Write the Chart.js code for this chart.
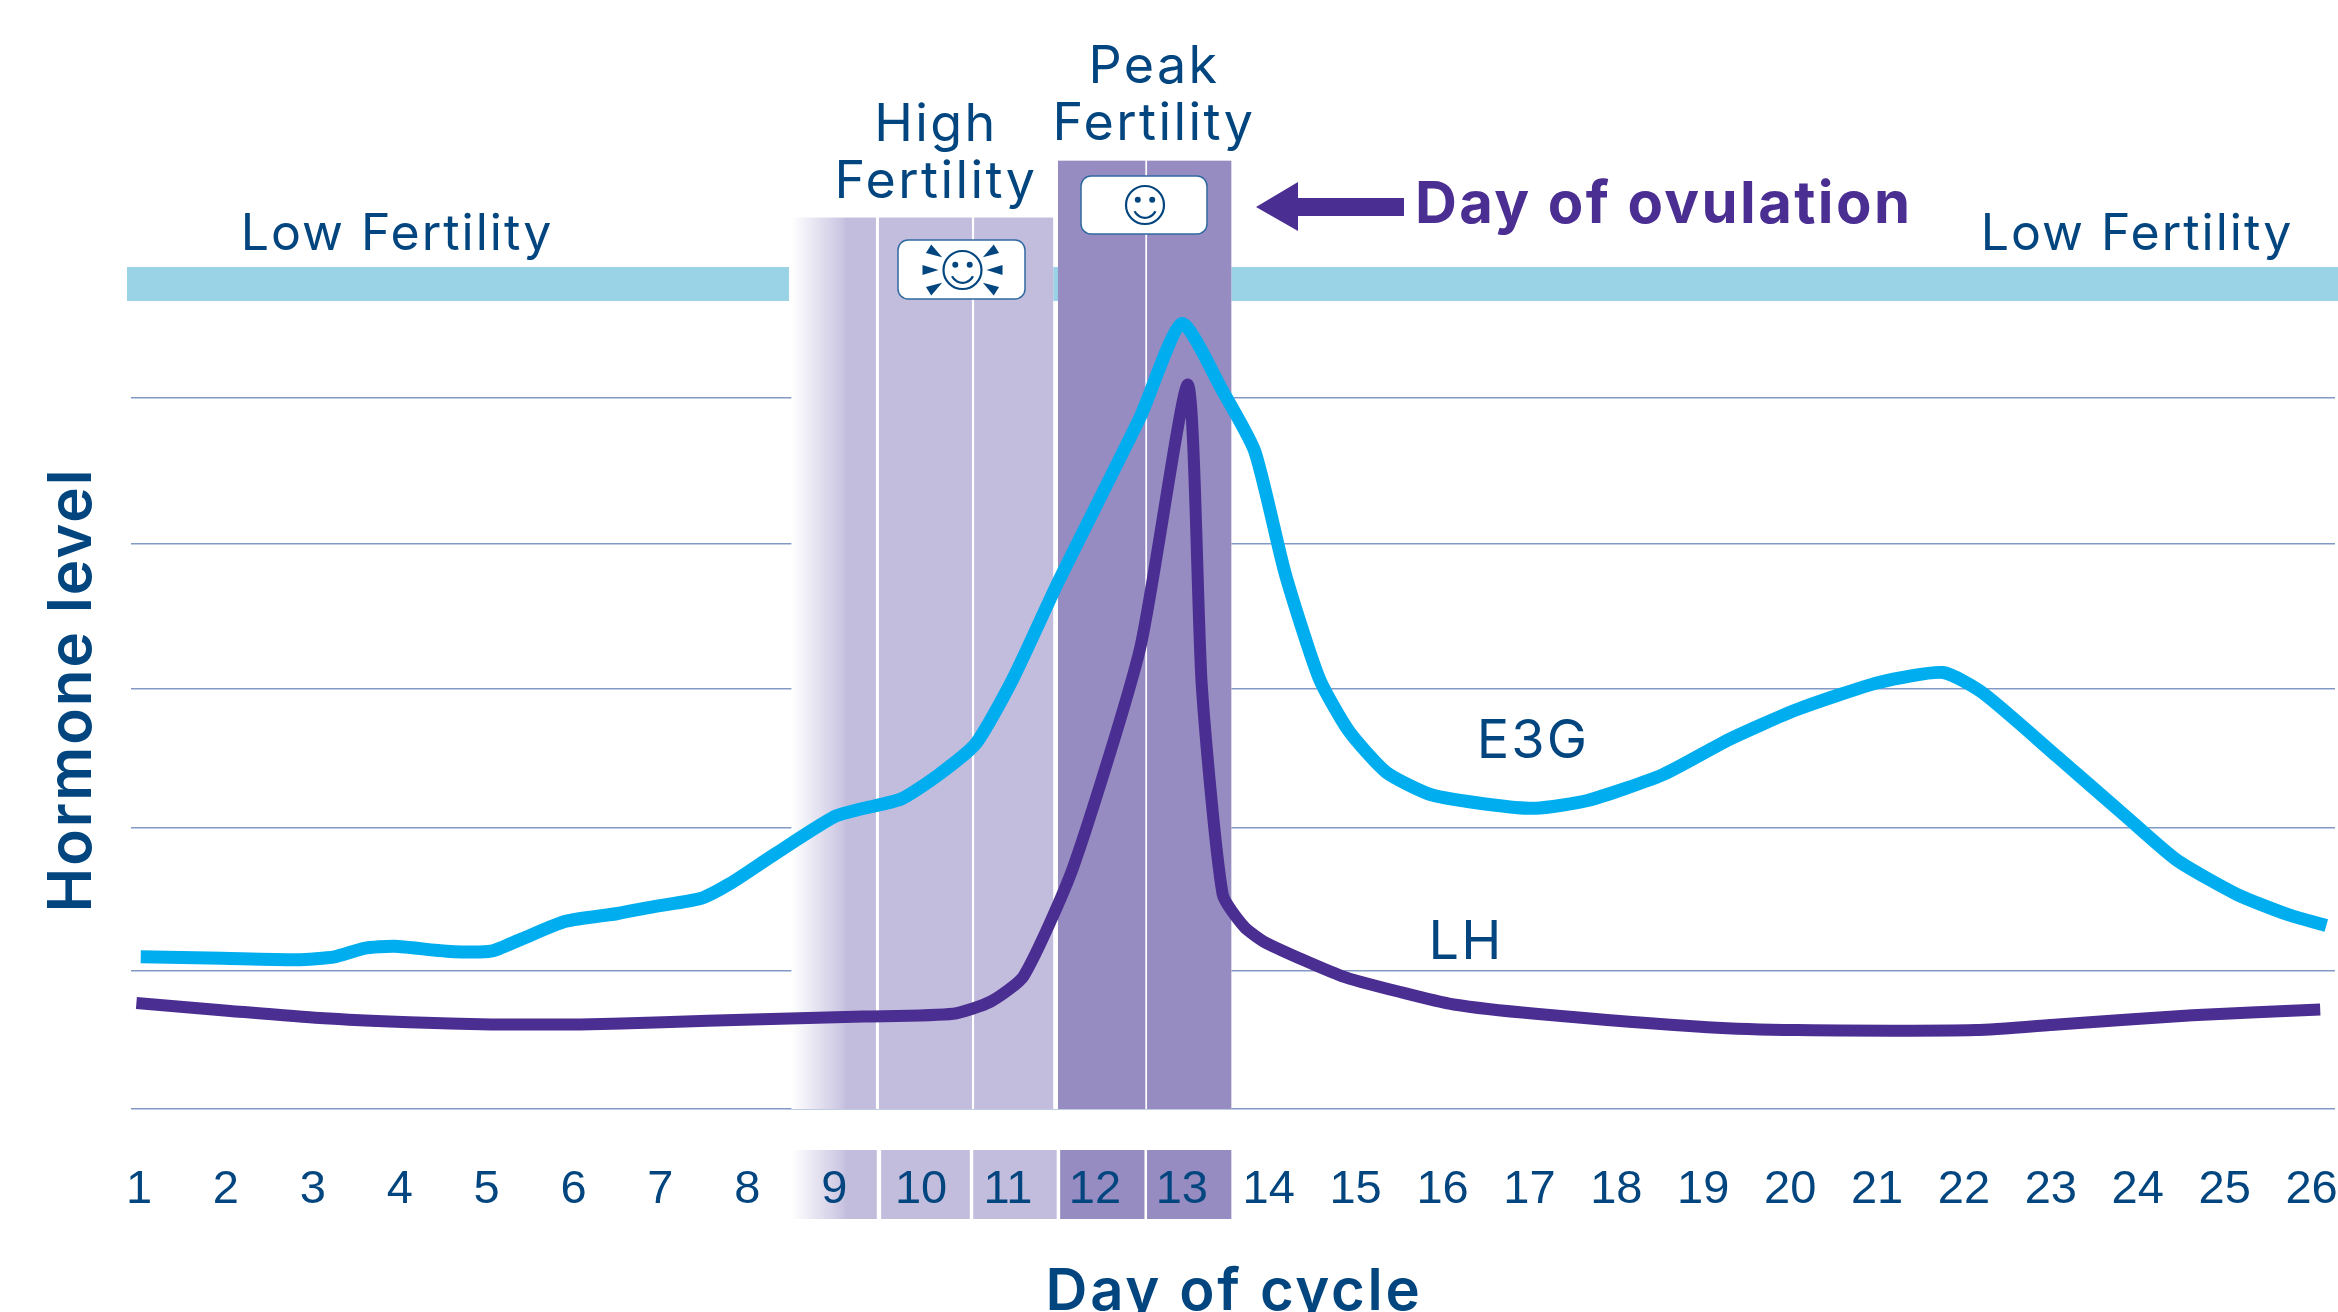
<!DOCTYPE html>
<html>
<head>
<meta charset="utf-8">
<title>Hormone level by day of cycle</title>
<script src="https://cdn.jsdelivr.net/npm/chart.js@4"></script>
<style>
  html, body { margin: 0; padding: 0; background: #fff; overflow: hidden; }
  canvas { display: block; }
</style>
</head>
<body>
<canvas id="myChart" width="2338" height="1312"></canvas>
<script>
const dayLabels = [1,2,3,4,5,6,7,8,9,10,11,12,13,14,15,16,17,18,19,20,21,22,23,24,25,26];
const gridLevels = [0,19.5,39.6,59.1,79.5,100];

const e3gDays = [1.02,1.96,2.82,3.25,3.59,3.94,4.54,5.05,5.40,5.91,6.51,6.94,7.46,7.80,8.31,9.00,9.34,9.77,10.20,10.63,11.06,11.58,12.52,13.00,13.47,13.84,14.19,14.58,14.92,15.35,15.87,16.56,17.07,17.67,18.53,19.30,20.08,21.02,21.76,22.22,23.08,23.85,24.45,25.14,25.74,26.17];
const e3gLevels = [21.4,21.2,21.0,21.4,22.6,22.9,22.2,22.2,23.9,26.4,27.5,28.5,29.6,31.7,35.8,41.1,42.3,43.6,47.0,51.4,60.6,74.2,97.3,110.5,101.0,92.5,75.3,60.6,53.2,47.4,44.2,42.8,42.3,43.4,47.0,52.0,56.2,60.0,61.4,58.5,49.5,41.3,35.0,30.2,27.3,25.8];

const lhDays = [0.97,2.05,3.08,4.11,5.05,6.08,7.03,8.06,9.34,10.37,10.80,11.18,11.75,12.52,13.07,13.23,13.47,13.72,13.98,14.84,15.53,16.13,17.07,19.05,20.08,22.14,23.08,24.63,26.10];
const lhLevels = [14.9,13.8,12.8,12.2,11.9,11.9,12.2,12.6,13.0,13.4,15.1,18.7,34.0,64.8,101.9,59.5,30.2,25.6,23.3,18.7,16.4,14.7,13.4,11.5,11.1,11.1,11.9,13.2,14.0];

const navy = '#03467f';
const purple = '#4b2e91';
const cyan = '#00aeef';
const skyBand = '#9ad2e6';
const lightBand = '#c2bcdd';
const darkBand = '#968cc1';
const textFont = '"Inter", "Noto Sans", sans-serif';

function fillText(c, text, x, y, font, color, align, spacing) {
    c.font = font;
    c.fillStyle = color;
    c.textAlign = align || 'center';
    c.textBaseline = 'middle';
    c.letterSpacing = (spacing || 0) + 'px';
    c.fillText(text, x, y);
    c.letterSpacing = '0px';
}

function drawCard(c, left, top, right, bottom) {
    c.beginPath();
    c.roundRect(left, top, right - left, bottom - top, 10);
    c.fillStyle = '#fff';
    c.fill();
    c.lineWidth = 1.5;
    c.strokeStyle = '#2f6aa0';
    c.stroke();
}

function drawSmiley(c, cx, cy, r) {
    c.strokeStyle = navy;
    c.fillStyle = navy;
    c.lineWidth = 2.2;
    c.beginPath();
    c.arc(cx, cy, r, 0, Math.PI * 2);
    c.stroke();
    c.beginPath();
    c.arc(cx, cy + 1, r * 0.62, 0.15 * Math.PI, 0.85 * Math.PI);
    c.stroke();
    c.beginPath();
    c.arc(cx - r * 0.38, cy - r * 0.28, 3, 0, Math.PI * 2);
    c.arc(cx + r * 0.38, cy - r * 0.28, 3, 0, Math.PI * 2);
    c.fill();
}

function drawRays(c, cx, cy) {
    c.fillStyle = navy;
    [0, 32, 148, 180, 212, 328].forEach(a => {
        c.save();
        c.translate(cx, cy);
        c.rotate(a * Math.PI / 180);
        c.beginPath();
        c.moveTo(24, 0);
        c.lineTo(40, -5);
        c.lineTo(40, 5);
        c.closePath();
        c.fill();
        c.restore();
    });
}

// fertility bands go in behind the curves but over the grid lines
const bandsPlugin = {
    id: 'bands',
    beforeDatasetsDraw(chart) {
        const c = chart.ctx;
        const xs = chart.scales.x;
        const ys = chart.scales.y;
        const px = d => xs.getPixelForValue(d);
        const bottom = ys.getPixelForValue(0);
        const highTop = ys.getPixelForValue(125.4);
        const peakTop = ys.getPixelForValue(133.4);
        const stripTop = 1150, stripBottom = 1219;

        c.save();
        c.fillStyle = '#fff';
        c.fillRect(px(8.51), peakTop, px(13.57) - px(8.51), bottom - peakTop);

        c.fillStyle = skyBand;
        c.fillRect(127, 267, 662, 34);
        c.fillRect(px(11.52), 267, px(11.575) - px(11.52), 34);
        c.fillRect(px(13.57), 267, 2338 - px(13.57), 34);

        const fade = c.createLinearGradient(px(8.51), 0, px(9.15), 0);
        fade.addColorStop(0, '#ffffff');
        fade.addColorStop(0.85, '#cfcae4');
        fade.addColorStop(1, lightBand);

        // main column and the strip behind the tick labels
        c.fillStyle = fade;
        c.fillRect(px(8.51), highTop, px(9.48) - px(8.51), bottom - highTop);
        c.fillRect(px(8.51), stripTop, px(9.49) - px(8.51), stripBottom - stripTop);

        c.fillStyle = lightBand;
        c.fillRect(px(9.515), highTop, px(10.585) - px(9.515), bottom - highTop);
        c.fillRect(px(10.61), highTop, px(11.52) - px(10.61), bottom - highTop);
        c.fillRect(px(9.54), stripTop, px(10.56) - px(9.54), stripBottom - stripTop);
        c.fillRect(px(10.6), stripTop, px(11.56) - px(10.6), stripBottom - stripTop);

        c.fillStyle = darkBand;
        c.fillRect(px(11.575), peakTop, px(12.58) - px(11.575), bottom - peakTop);
        c.fillRect(px(12.6), peakTop, px(13.57) - px(12.6), bottom - peakTop);
        c.fillRect(px(11.6), stripTop, px(12.57) - px(11.6), stripBottom - stripTop);
        c.fillRect(px(12.6), stripTop, px(13.57) - px(12.6), stripBottom - stripTop);

        drawCard(c, 898, 240, 1025, 299);
        drawSmiley(c, 962.5, 270, 19);
        drawRays(c, 962.5, 270);
        drawCard(c, 1081, 176, 1207, 234);
        drawSmiley(c, 1145, 205, 19);
        c.restore();
    },
    afterDraw(chart) {
        const c = chart.ctx;
        const low = '400 50px ' + textFont;
        const band = '400 52px ' + textFont;
        const curve = '400 54px ' + textFont;
        c.save();
        fillText(c, 'Low Fertility', 397, 235, low, navy, 'center', 2);
        fillText(c, 'Low Fertility', 2137, 235, low, navy, 'center', 2);
        fillText(c, 'High', 936, 125, band, navy, 'center', 2.4);
        fillText(c, 'Fertility', 936, 182, band, navy, 'center', 2.4);
        fillText(c, 'Peak', 1154, 67, band, navy, 'center', 2.4);
        fillText(c, 'Fertility', 1154, 124, band, navy, 'center', 2.4);
        fillText(c, 'E3G', 1533, 742, curve, navy, 'center', 2.2);
        fillText(c, 'LH', 1466, 943, curve, navy, 'center', 2.2);
        fillText(c, 'Day of ovulation', 1415, 206, '700 58px ' + textFont, purple, 'left', 2.4);
        fillText(c, 'Day of cycle', 1234, 1293, '600 58px ' + textFont, navy, 'center', 2.7);

        c.fillStyle = purple;
        c.beginPath();
        c.moveTo(1256, 207);
        c.lineTo(1298, 182);
        c.lineTo(1298, 198);
        c.lineTo(1404, 198);
        c.lineTo(1404, 216);
        c.lineTo(1298, 216);
        c.lineTo(1298, 231);
        c.closePath();
        c.fill();

        c.translate(73, 690);
        c.rotate(-Math.PI / 2);
        fillText(c, 'Hormone level', 0, 0, '600 60px ' + textFont, navy, 'center', 2);
        c.restore();
    }
};

new Chart(document.getElementById('myChart'), {
    type: 'line',
    data: {
        datasets: [
            {
                label: 'LH',
                data: lhDays.map((d, i) => ({ x: d, y: lhLevels[i] })),
                borderColor: purple,
                borderWidth: 12,
                pointRadius: 0,
                tension: 0.2,
                borderJoinStyle: 'round'
            },
            {
                label: 'E3G',
                data: e3gDays.map((d, i) => ({ x: d, y: e3gLevels[i] })),
                borderColor: cyan,
                borderWidth: 13,
                pointRadius: 0,
                tension: 0.2,
                borderJoinStyle: 'round'
            }
        ]
    },
    options: {
        responsive: false,
        animation: false,
        layout: { padding: { left: 0, right: 3, top: 0, bottom: 0 } },
        plugins: { legend: { display: false }, tooltip: { enabled: false } },
        scales: {
            x: {
                type: 'linear',
                min: 0.908,
                max: 26.27,
                afterBuildTicks: axis => { axis.ticks = dayLabels.map(v => ({ value: v })); },
                afterFit: axis => {
                    axis.height = 203;
                    axis.paddingLeft = 0;
                    axis.paddingRight = 0;
                },
                grid: { display: false },
                border: { display: false },
                ticks: {
                    autoSkip: false,
                    maxRotation: 0,
                    padding: 45,
                    z: 1,
                    color: navy,
                    font: { family: '"Liberation Sans", Arial, sans-serif', size: 47 },
                    callback: v => String(v)
                }
            },
            y: {
                min: 0,
                max: 156,
                afterBuildTicks: axis => { axis.ticks = gridLevels.map(v => ({ value: v })); },
                afterFit: axis => { axis.width = 131; },
                grid: { color: '#8299c6', lineWidth: 1.5, drawTicks: false },
                border: { display: false },
                ticks: { display: false }
            }
        }
    },
    plugins: [bandsPlugin]
});
</script>
</body>
</html>
